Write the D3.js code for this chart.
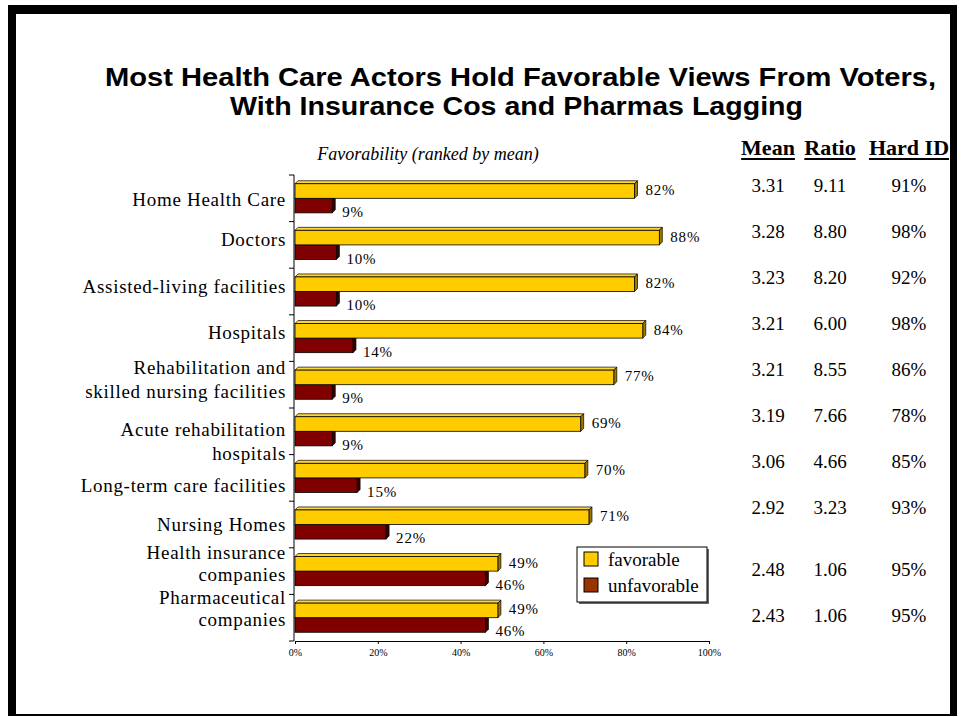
<!DOCTYPE html>
<html><head><meta charset="utf-8">
<script src="https://cdn.jsdelivr.net/npm/d3@7"></script>
<style>body{margin:0;background:#fff}svg{display:block}</style>
</head><body>
<svg id="c" width="961" height="717"></svg>
<script>
// ---- data ----
const categories = ["Home Health Care","Doctors","Assisted-living facilities","Hospitals","Rehabilitation and|skilled nursing facilities","Acute rehabilitation|hospitals","Long-term care facilities","Nursing Homes","Health insurance|companies","Pharmaceutical|companies"];
const favorable = [82,88,82,84,77,69,70,71,49,49];
const unfavorable = [9,10,10,14,9,9,15,22,46,46];
const meanScores = ["3.31","3.28","3.23","3.21","3.21","3.19","3.06","2.92","2.48","2.43"];
const ratios = ["9.11","8.80","8.20","6.00","8.55","7.66","4.66","3.23","1.06","1.06"];
const hardID = ["91%","98%","92%","98%","86%","78%","85%","93%","95%","95%"];
const xTicks = [0,20,40,60,80,100];
const tableHeaders = ["Mean","Ratio","Hard ID"];
const seriesNames = ["favorable","unfavorable"];
const titleLines = ["Most Health Care Actors Hold Favorable Views From Voters,","With Insurance Cos and Pharmas Lagging"];
const subtitle = "Favorability (ranked by mean)";

// ---- layout / style ----
const labelDy = [1,-5,-5,-6,-5,10,8,0,-8,-9];
const lineGap = [24,24,24,24,24,24,24,24,22,22];
const serif = "'Liberation Serif','Times New Roman',serif";
const colors = {favorable:{front:"#FFCC00",top:"#FFD633",side:"#9C7A00"},
                unfavorable:{front:"#800000",top:"#990000",side:"#3A0000"}};
const legendColors = {favorable:"#FFCC00",unfavorable:"#993300"};
const depth = 3;

const svg = d3.select("#c");
svg.append("rect").attr("width",961).attr("height",717).attr("fill","#fff");

// frame
const frame = svg.append("g").attr("fill","#000");
frame.append("rect").attr("x",8).attr("y",5).attr("width",949).attr("height",9);
frame.append("rect").attr("x",8).attr("y",5).attr("width",8).attr("height",711);
frame.append("rect").attr("x",950).attr("y",5).attr("width",7).attr("height",711);
frame.append("rect").attr("x",8).attr("y",714).attr("width",949).attr("height",2);

// title
svg.append("g").selectAll("text").data(titleLines).join("text")
  .attr("x",(d,i)=>i===0?520.5:516.5).attr("y",(d,i)=>86+i*29)
  .attr("text-anchor","middle")
  .attr("font-family","'Liberation Sans',Arial,sans-serif").attr("font-weight","bold")
  .attr("font-size",26)
  .attr("textLength",(d,i)=>i===0?831:573).attr("lengthAdjust","spacingAndGlyphs")
  .text(d=>d);

svg.append("text").attr("x",428).attr("y",160).attr("text-anchor","middle")
  .attr("font-family",serif).attr("font-style","italic").attr("font-size",18)
  .text(subtitle);

// scales
const x = d3.scaleLinear().domain([0,100]).range([295,709]);
const y = d3.scaleBand().domain(categories).range([175,641]);
const sub = d3.scaleBand().domain(seriesNames).range([0,y.bandwidth()]).paddingOuter(0.6);

// axes
const xAxis = svg.append("g").attr("transform","translate(0,641)")
  .call(d3.axisBottom(x).tickValues(xTicks).tickSize(3).tickFormat(d=>d+"%"));
xAxis.select(".domain").attr("stroke","#000");
xAxis.selectAll("text").attr("font-family",serif).attr("font-size",10).attr("dy","0.9em");

const yAxis = svg.append("g").attr("transform","translate(294,0)");
yAxis.append("line").attr("x1",0).attr("x2",0).attr("y1",175).attr("y2",641).attr("stroke","#000");
const bounds = categories.map(c=>y(c)).concat([641]);
yAxis.selectAll("line.t").data(bounds).join("line").attr("class","t")
  .attr("x1",-5).attr("x2",0).attr("y1",d=>d).attr("y2",d=>d).attr("stroke","#000");

// category labels
const lab = svg.append("g").attr("font-family",serif).attr("font-size",19)
  .attr("letter-spacing","0.7").attr("text-anchor","end");
categories.forEach((c,i)=>{
  const lines = c.split("|");
  const cy = y(c)+y.bandwidth()/2+labelDy[i];
  lines.forEach((l,j)=>{
    lab.append("text").attr("x",286).attr("y",cy+(j-(lines.length-1)/2)*lineGap[i])
      .attr("dominant-baseline","central").text(l);
  });
});

// 3D bars
function bar3d(g,x0,x1,yt,h,col){
  g.append("polygon").attr("points",[[x0,yt],[x0+depth,yt-depth],[x1+depth,yt-depth],[x1,yt]].join(" "))
    .attr("fill",col.top).attr("stroke","#000").attr("stroke-width",0.7);
  g.append("polygon").attr("points",[[x1,yt],[x1+depth,yt-depth],[x1+depth,yt+h-depth],[x1,yt+h]].join(" "))
    .attr("fill",col.side).attr("stroke","#000").attr("stroke-width",0.7);
  g.append("rect").attr("x",x0).attr("y",yt).attr("width",x1-x0).attr("height",h)
    .attr("fill",col.front).attr("stroke","#000").attr("stroke-width",0.8);
}
const bars = svg.append("g");
const seriesVals = {favorable, unfavorable};
categories.forEach((c,i)=>{
  ["unfavorable","favorable"].forEach(s=>{
    bar3d(bars, x(0), x(seriesVals[s][i]), y(c)+sub(s), sub.bandwidth(), colors[s]);
  });
});

// value labels
const vl = svg.append("g").attr("font-family",serif).attr("font-size",15).attr("letter-spacing","0.8");
categories.forEach((c,i)=>{
  vl.append("text").attr("x",x(favorable[i])+depth+8).attr("y",y(c)+15)
    .attr("dominant-baseline","central").text(favorable[i]+"%");
  vl.append("text").attr("x",x(unfavorable[i])+depth+7).attr("y",y(c)+37)
    .attr("dominant-baseline","central").text(unfavorable[i]+"%");
});

// legend
const lg = svg.append("g");
lg.append("rect").attr("x",579).attr("y",549).attr("width",130).attr("height",55).attr("fill","#666");
lg.append("rect").attr("x",577).attr("y",547).attr("width",130).attr("height",55)
  .attr("fill","#fff").attr("stroke","#000").attr("stroke-width",1);
seriesNames.forEach((s,i)=>{
  lg.append("rect").attr("x",584).attr("y",552+i*26).attr("width",14).attr("height",14)
    .attr("fill",legendColors[s]).attr("stroke","#000");
  lg.append("text").attr("x",608).attr("y",559+i*26).attr("dominant-baseline","central")
    .attr("font-family",serif).attr("font-size",19).text(s);
});

// table
const colX = [768,830,909];
const tg = svg.append("g").attr("font-family",serif).attr("text-anchor","middle");
tableHeaders.forEach((h,k)=>{
  const t = tg.append("text").attr("x",colX[k]).attr("y",155).attr("font-weight","bold")
    .attr("font-size",22).text(h);
  const w = t.node().getComputedTextLength();
  tg.append("rect").attr("x",colX[k]-w/2).attr("y",158).attr("width",w).attr("height",2).attr("fill","#000");
});
const cols = [meanScores, ratios, hardID];
categories.forEach((c,i)=>{
  const pos = i<8 ? i : i+0.35;
  cols.forEach((col,k)=>{
    tg.append("text").attr("x",colX[k]).attr("y",185+pos*46).attr("dominant-baseline","central")
      .attr("font-size",19).text(col[i]);
  });
});
</script>
</body></html>
